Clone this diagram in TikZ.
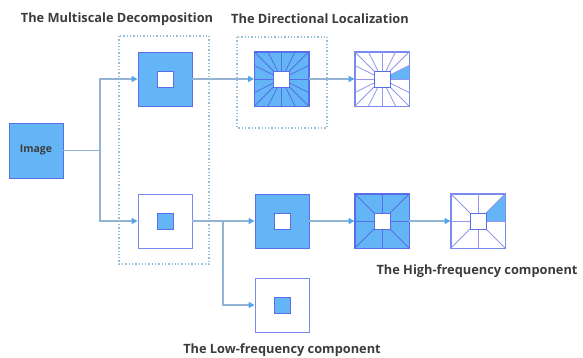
\documentclass[tikz,border=0pt]{standalone}
\usepackage{fontspec}
\setmainfont{Open Sans}
\usetikzlibrary{arrows.meta}
\definecolor{boxfill}{RGB}{100,181,246}
\definecolor{boxline}{RGB}{88,110,232}
\definecolor{thinline}{RGB}{150,150,240}
\definecolor{conn}{RGB}{145,180,212}
\definecolor{tipblue}{RGB}{80,165,235}
\definecolor{dotc}{RGB}{150,190,215}
\definecolor{txt}{RGB}{60,60,60}
\tikzset{
  bluebox/.style={draw=boxline, fill=boxfill, line width=0.9pt, minimum width=54pt, minimum height=54pt, inner sep=0pt},
  whitebox/.style={draw=boxline!80, fill=white, line width=0.9pt, minimum width=54pt, minimum height=54pt, inner sep=0pt},
  innerwhite/.style={draw=boxline, fill=white, line width=0.9pt, minimum width=16pt, minimum height=16pt, inner sep=0pt},
  innerblue/.style={draw=boxline, fill=boxfill, line width=0.9pt, minimum width=16pt, minimum height=16pt, inner sep=0pt},
  conline/.style={draw=conn, line width=1.4pt},
  conarrow/.style={conline, -{Triangle[length=6pt,width=6pt,color=tipblue]}},
  dotbox/.style={draw=dotc, line width=1.3pt, dotted},
  title/.style={font=\bfseries\fontsize{12.8}{15}\selectfont, text=txt, inner sep=0pt},
}
\begin{document}
\begin{tikzpicture}[x=1pt,y=-1pt]
\useasboundingbox (0,0) rectangle (583,358);
% dotted groups
\draw[dotbox] (119,36) rectangle (209,264);
\draw[dotbox] (237,37) rectangle (327,128);
% titles
\node[title] (t1) at (117,19) {The Multiscale Decomposition};
\node[title] (t2) at (320,19) {The Directional Localization};
\node[title] (t3) at (477,271) {The High-frequency component};
\node[title] (t4) at (282,350) {The Low-frequency component};
% nodes
\node[bluebox, minimum height=55pt, font=\bfseries\fontsize{10.5}{12}\selectfont, text=txt] (img) at (36,150.5) {Image};
\node[bluebox] (a1) at (165,79) {};
\node[innerwhite] (a1i) at (165,79) {};
\node[whitebox] (b1) at (165,221) {};
\node[innerblue] (b1i) at (165,221) {};
\node[bluebox] (a2) at (281.5,79) {};
\node[whitebox] (a3) at (382,79) {};
\node[bluebox] (c1) at (282,221) {};
\node[innerwhite] (c1i) at (282,221) {};
\node[bluebox] (c2) at (382,221) {};
\node[whitebox] (c3) at (478,221) {};
\node[whitebox] (low) at (282,305) {};
\node[innerblue] (lowi) at (282,305) {};
% directional lines, 16 directions
\begin{scope}[shift={(a2.center)}]
  \foreach \t in {-1,-0.5,0,0.5}{
    \draw[boxline, line width=0.8pt] (\t*8,-8) -- (\t*27,-27);
    \draw[boxline, line width=0.8pt] (8,\t*8) -- (27,\t*27);
    \draw[boxline, line width=0.8pt] (-\t*8,8) -- (-\t*27,27);
    \draw[boxline, line width=0.8pt] (-8,-\t*8) -- (-27,-\t*27);
  }
\end{scope}
\node[innerwhite] (a2i) at (a2.center) {};
\begin{scope}[shift={(a3.center)}]
  \fill[boxfill] (8,0) -- (27,0) -- (27,-13.5) -- (8,-4) -- cycle;
  \foreach \t in {-1,-0.5,0,0.5}{
    \draw[thinline, line width=0.8pt] (\t*8,-8) -- (\t*27,-27);
    \draw[thinline, line width=0.8pt] (8,\t*8) -- (27,\t*27);
    \draw[thinline, line width=0.8pt] (-\t*8,8) -- (-\t*27,27);
    \draw[thinline, line width=0.8pt] (-8,-\t*8) -- (-27,-\t*27);
  }
\end{scope}
\node[innerwhite] (a3i) at (a3.center) {};
% 4-direction boxes
\begin{scope}[shift={(c2.center)}]
  \foreach \t in {-1,0}{
    \draw[boxline, line width=0.8pt] (\t*8,-8) -- (\t*27,-27);
    \draw[boxline, line width=0.8pt] (8,\t*8) -- (27,\t*27);
    \draw[boxline, line width=0.8pt] (-\t*8,8) -- (-\t*27,27);
    \draw[boxline, line width=0.8pt] (-8,-\t*8) -- (-27,-\t*27);
  }
\end{scope}
\node[innerwhite] (c2i) at (c2.center) {};
\begin{scope}[shift={(c3.center)}]
  \fill[boxfill] (8,0) -- (27,0) -- (27,-27) -- (8,-8) -- cycle;
  \foreach \t in {-1,0}{
    \draw[thinline, line width=0.8pt] (\t*8,-8) -- (\t*27,-27);
    \draw[thinline, line width=0.8pt] (8,\t*8) -- (27,\t*27);
    \draw[thinline, line width=0.8pt] (-\t*8,8) -- (-\t*27,27);
    \draw[thinline, line width=0.8pt] (-8,-\t*8) -- (-27,-\t*27);
  }
\end{scope}
\node[innerwhite] (c3i) at (c3.center) {};
% redraw outer borders
\foreach \n in {a2,c2}{\draw[boxline, line width=0.9pt] (\n.south west) rectangle (\n.north east);}
\foreach \n in {a3,c3}{\draw[boxline!80, line width=0.9pt] (\n.south west) rectangle (\n.north east);}
% connectors
\coordinate (split) at (100,150.5);
\coordinate (split2) at (223,221);
\draw[conline] (img.east) -- (split);
\draw[conarrow] (split) |- (a1.west);
\draw[conarrow] (split) |- (b1.west);
\draw[conarrow] (a1.east) -- (a2.west);
\draw[conarrow] (a2.east) -- (a3.west);
\draw[conarrow] (b1.east) -- (c1.west);
\draw[conarrow] (split2) |- (low.west);
\draw[conarrow] (c1.east) -- (c2.west);
\draw[conarrow] (c2.east) -- (c3.west);
\end{tikzpicture}
\end{document}
